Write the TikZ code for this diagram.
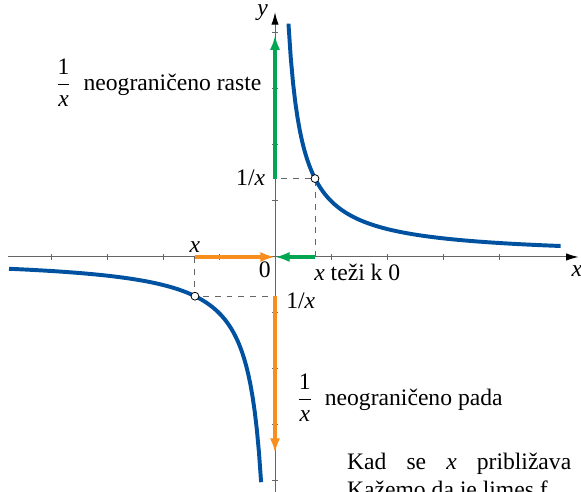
\documentclass[tikz,border=0pt]{standalone}
\usepackage{fontspec}
\setmainfont{Liberation Serif}
\usetikzlibrary{arrows.meta}
\definecolor{krivulja}{RGB}{0,82,160}
\definecolor{zelena}{RGB}{0,166,81}
\definecolor{narancasta}{RGB}{247,142,30}
\newcommand{\vx}{\textit{x}}
\newcommand{\jednax}{$\displaystyle\frac{\mbox{1}}{\mbox{\itshape x}}$}
\begin{document}
\begin{tikzpicture}[font=\fontsize{12}{14}\selectfont,
  os/.style={draw=black!60,line width=.5pt,-{Latex[length=2.2mm,width=1.3mm,color=black]}},
  graf/.style={draw=krivulja,line width=2pt},
  strelica/.style={line width=2pt,-{Latex[length=2.6mm,width=1.8mm]}},
  isprek/.style={draw=black!60,dashed,line width=.5pt},
  tocka/.style={circle,draw=black,fill=white,inner sep=0pt,minimum size=4pt,line width=.4pt}]
  \useasboundingbox (-4.911,-4.179) rectangle (5.464,4.589);
  \coordinate (O) at (0,0);
  \coordinate (XL) at (-4.77,0);
  \coordinate (XR) at (5.42,0);
  \coordinate (YD) at (0,-4.3);
  \coordinate (YU) at (0,4.37);
  \coordinate (A) at (.714,1.4);
  \coordinate (Ax) at (.714,0);
  \coordinate (Ay) at (0,1.4);
  \coordinate (B) at (-1.43,-.7);
  \coordinate (Bx) at (-1.43,0);
  \coordinate (By) at (0,-.7);
  \coordinate (GU) at (0,3.96);
  \coordinate (ND) at (0,-3.5);
  % osi
  \draw[os] (XL)--(XR);
  \draw[os] (YD)--(YU);
  \foreach \t in {-4,-3,-2,-1,1,2,3,4} {
    \draw[black!60,line width=.5pt] (\t,-.05)--(\t,.05);
    \draw[black!60,line width=.5pt] (-.05,\t)--(.05,\t);
  }
  % graf
  \draw[graf] plot[domain=.24:5.1,samples=120] (\x,{1/\x});
  \draw[graf] plot[domain=-4.75:-.2475,samples=120] (\x,{1/\x});
  % isprekidano
  \draw[isprek] (Ax)--(A)--(Ay);
  \draw[isprek] (Bx)--(B)--(By);
  % strelice
  \draw[strelica,zelena] (Ay)--(GU);
  \draw[strelica,zelena] (Ax)--(O);
  \draw[strelica,narancasta] (Bx)--(O);
  \draw[strelica,narancasta] (By)--(ND);
  \node[tocka] (tA) at (A) {};
  \node[tocka] (tB) at (B) {};
  % oznake
  \node[left,inner sep=2pt] (ly) at (-.05,4.36) {\textit{y}};
  \node (lx) at (5.39,-.25) {\vx};
  \node[left,inner sep=2pt] (lay) at (-.1,1.41) {1/\vx};
  \node[above,inner sep=2pt] (lbx) at (Bx) {\vx};
  \node[below left,inner sep=2pt] (l0) at (O) {0};
  \node[anchor=north west,inner sep=1pt] (lt) at (.66,-.08) {\vx\ teži k 0};
  \node[anchor=west,inner sep=1pt] (lby) at (.16,-.79) {1/\vx};
  \node[anchor=east] (lr) at (-.12,3.11) {\jednax\ \ neograničeno raste};
  \node[anchor=west] (lp) at (.26,-2.52) {\jednax\ \ neograničeno pada};
  \node[anchor=base west,inner sep=0pt] (k1) at (1.28,-3.8) {Kad\hspace{.85em}se\hspace{.85em}\vx\hspace{.85em}približava};
  \node[anchor=base west,inner sep=0pt] (k2) at (1.28,-4.3) {Kažemo da je limes f};
\end{tikzpicture}
\end{document}
